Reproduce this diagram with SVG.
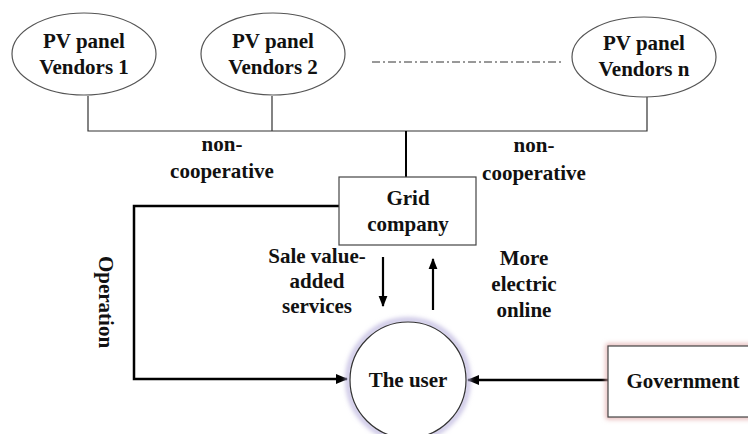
<svg xmlns="http://www.w3.org/2000/svg" width="748" height="434" viewBox="0 0 748 434">
<defs>
<style>
.t{font-family:"Liberation Serif","Times New Roman",serif;font-weight:bold;font-size:21px;fill:#111;text-anchor:middle}
.thin{stroke:#333;stroke-width:1.2;fill:none}
.thick{stroke:#000;stroke-width:2.5;fill:none}
.ell{fill:#fff;stroke:#555;stroke-width:1.2}
</style>
<marker id="ah" viewBox="0 0 10 10" refX="9" refY="5" markerWidth="5" markerHeight="5" orient="auto" markerUnits="strokeWidth">
<path d="M0,1 L10,5 L0,9 z" fill="#000"/>
</marker>
<filter id="blur" x="-20%" y="-20%" width="140%" height="140%"><feGaussianBlur stdDeviation="2.5"/></filter>
</defs>
<rect width="748" height="434" fill="#fff"/>
<g id="connectors">
<path class="thin" d="M88,96 V131 H647 V97 M272,96 V131"/>
<path d="M372,62 H561" stroke="#333" stroke-width="1" stroke-dasharray="8 3 2 3" fill="none"/>
<path d="M406,131 V177" stroke="#000" stroke-width="2" fill="none"/>
<path class="thick" d="M339,206 H134 V379 H347" marker-end="url(#ah)"/>
<path class="thick" d="M608,380 H468" marker-end="url(#ah)"/>
<path d="M383,257 V306" stroke="#000" stroke-width="2.2" fill="none" marker-end="url(#ah)"/>
<path d="M433,310 V259" stroke="#000" stroke-width="2.2" fill="none" marker-end="url(#ah)"/>
</g>
<g id="vendor1">
<ellipse class="ell" cx="84" cy="54" rx="72" ry="41"/>
<text class="t" x="84" y="48">PV panel</text>
<text class="t" x="84" y="74">Vendors 1</text>
</g>
<g id="vendor2">
<ellipse class="ell" cx="273" cy="54" rx="72" ry="41"/>
<text class="t" x="273" y="48">PV panel</text>
<text class="t" x="273" y="74">Vendors 2</text>
</g>
<g id="vendorn">
<ellipse class="ell" cx="644" cy="57" rx="72" ry="40"/>
<text class="t" x="644" y="50">PV panel</text>
<text class="t" x="644" y="76">Vendors n</text>
</g>
<g id="label-noncoop-left">
<text class="t" x="222" y="151">non-</text>
<text class="t" x="222" y="178">cooperative</text>
</g>
<g id="label-noncoop-right">
<text class="t" x="534" y="152">non-</text>
<text class="t" x="534" y="180">cooperative</text>
</g>
<g id="grid">
<rect x="339" y="177" width="137" height="68" fill="#fff" stroke="#444" stroke-width="1.2"/>
<text class="t" x="408" y="205">Grid</text>
<text class="t" x="408" y="231">company</text>
</g>
<g id="label-sale">
<text class="t" x="317" y="263">Sale value-</text>
<text class="t" x="317" y="288">added</text>
<text class="t" x="317" y="313">services</text>
</g>
<g id="label-more">
<text class="t" x="524" y="265">More</text>
<text class="t" x="524" y="291">electric</text>
<text class="t" x="524" y="317">online</text>
</g>
<g id="label-operation">
<text class="t" transform="translate(99,302) rotate(90)">Operation</text>
</g>
<g id="user">
<circle cx="408" cy="380" r="60" fill="none" stroke="#b8b0dc" stroke-width="4" filter="url(#blur)"/>
<circle cx="408" cy="380" r="58" fill="#fff" stroke="#333" stroke-width="1.2"/>
<text class="t" x="408" y="387">The user</text>
</g>
<g id="government">
<rect x="608" y="346" width="160" height="71" fill="none" stroke="#e0a8a8" stroke-width="4" filter="url(#blur)"/>
<rect x="608" y="346" width="160" height="71" fill="#fff" stroke="#444" stroke-width="1.2"/>
<text class="t" x="683" y="388">Government</text>
</g>
</svg>
